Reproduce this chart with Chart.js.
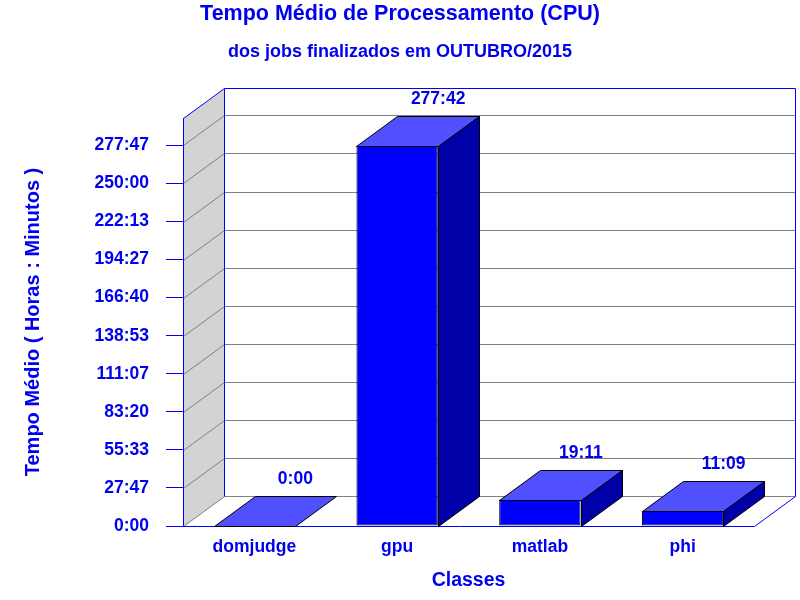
<!DOCTYPE html>
<html><head><meta charset="utf-8">
<script src="https://cdn.jsdelivr.net/npm/chart.js@4.4.0/dist/chart.umd.min.js"></script>
<style>html,body{margin:0;padding:0;background:#fff;overflow:hidden}#wrap{width:800px;height:600px}</style>
</head><body><div id="wrap"><canvas id="c" width="800" height="600"></canvas></div>
<script>
// ---- data ----
const categories = ['domjudge', 'gpu', 'matlab', 'phi'];
// average CPU time in seconds (277:42, 19:11, 11:09 in hours:minutes)
const valuesSeconds = [0, 999720, 69060, 40140];
const yTickValues = [0, 100000, 200000, 300000, 400000, 500000, 600000, 700000, 800000, 900000, 1000000];
const yAxisMax = 1072000;
const titleText = 'Tempo Médio de Processamento (CPU)';
const subtitleText = 'dos jobs finalizados em OUTUBRO/2015';
const yTitleText = 'Tempo Médio ( Horas : Minutos )';
const xTitleText = 'Classes';

// ---- style ----
const FONT = "'Liberation Sans', Arial, sans-serif";
const TXT = '#0000f0';
const BLUE = '#0000ff';
const DX = 41, DY = 30;

function fmt(sec) {
  const m = Math.round(sec / 60);
  const h = Math.floor(m / 60);
  const mm = m % 60;
  return h + ':' + String(mm).padStart(2, '0');
}

const threeD = {
  id: 'threeD',
  beforeDraw(chart) {
    const ctx = chart.ctx, a = chart.chartArea, ys = chart.scales.y;
    const L = Math.round(a.left) + 0.5, R = Math.round(a.right) + 0.5;
    const T = Math.round(a.top) + 0.5, B = Math.round(a.bottom) + 0.5;
    ctx.save();
    ctx.fillStyle = '#fff';
    ctx.fillRect(0, 0, chart.width, chart.height);
    // left wall
    ctx.fillStyle = '#d3d3d3';
    ctx.beginPath();
    ctx.moveTo(L, T); ctx.lineTo(L + DX, T - DY); ctx.lineTo(L + DX, B - DY); ctx.lineTo(L, B);
    ctx.closePath(); ctx.fill();
    // grid lines on left wall and back wall
    ctx.strokeStyle = '#808080'; ctx.lineWidth = 1;
    ys.ticks.forEach(t => {
      const y = Math.round(ys.getPixelForValue(t.value)) + 0.5;
      ctx.beginPath();
      ctx.moveTo(L, y); ctx.lineTo(L + DX, y - DY); ctx.lineTo(R + DX, y - DY);
      ctx.stroke();
    });
    // frame
    ctx.strokeStyle = BLUE;
    ctx.beginPath();
    ctx.moveTo(L, T); ctx.lineTo(L + DX, T - DY); ctx.lineTo(R + DX, T - DY);
    ctx.lineTo(R + DX, B - DY); ctx.lineTo(R, B); ctx.lineTo(L - 17, B);
    ctx.moveTo(L + DX, T - DY); ctx.lineTo(L + DX, B - DY);
    ctx.stroke();
    ctx.restore();
  },
  afterDatasetsDraw(chart) {
    const ctx = chart.ctx;
    const meta = chart.getDatasetMeta(0);
    const data = chart.data.datasets[0].data;
    ctx.save();
    ctx.lineWidth = 1; ctx.strokeStyle = '#000';
    meta.data.forEach((bar, i) => {
      const p = bar.getProps(['x', 'y', 'base', 'width'], true);
      const l = Math.round(p.x - p.width / 2) + 0.5, r = Math.round(p.x + p.width / 2) + 0.5;
      const t = Math.round(p.y) + 0.5, b = Math.round(p.base) + 0.5;
      // top face
      ctx.fillStyle = '#5050ff';
      ctx.beginPath();
      ctx.moveTo(l, t); ctx.lineTo(l + DX, t - DY); ctx.lineTo(r + DX, t - DY); ctx.lineTo(r, t);
      ctx.closePath(); ctx.fill(); ctx.stroke();
      // side face
      if (b - t > 0.5) {
        ctx.fillStyle = '#0000a8';
        ctx.beginPath();
        ctx.moveTo(r, t); ctx.lineTo(r + DX, t - DY); ctx.lineTo(r + DX, b - DY); ctx.lineTo(r, b);
        ctx.closePath(); ctx.fill(); ctx.stroke();
      }
      // value label
      ctx.fillStyle = TXT;
      ctx.font = 'bold 17.5px ' + FONT;
      ctx.textAlign = 'center'; ctx.textBaseline = 'middle';
      ctx.fillText(fmt(data[i]), p.x + DX, t - DY - 17.5);
    });
    ctx.restore();
  }
};

new Chart(document.getElementById('c'), {
  type: 'bar',
  data: {
    labels: categories,
    datasets: [{
      data: valuesSeconds,
      backgroundColor: BLUE,
      borderColor: '#000',
      borderWidth: 1,
      borderSkipped: false,
      barPercentage: 0.57,
      categoryPercentage: 1.0
    }]
  },
  options: {
    responsive: false,
    animation: false,
    devicePixelRatio: 1,
    layout: { padding: 0 },
    plugins: {
      legend: { display: false },
      tooltip: { enabled: false },
      title: {
        display: true, text: titleText, color: TXT,
        font: { family: FONT, size: 21.5, weight: 'bold', lineHeight: 1 },
        padding: { top: 3, bottom: 0 }
      },
      subtitle: {
        display: true, text: subtitleText, color: TXT,
        font: { family: FONT, size: 18, weight: 'bold', lineHeight: 1 },
        padding: { top: 19, bottom: 56.5 }
      }
    },
    scales: {
      x: {
        grid: { display: false, drawTicks: false },
        border: { display: false },
        ticks: { color: TXT, padding: 12, font: { family: FONT, size: 17.5, weight: 'bold', lineHeight: 1 } },
        title: {
          display: true, text: xTitleText, color: TXT,
          font: { family: FONT, size: 19.5, weight: 'bold', lineHeight: 1 },
          padding: { top: 0, bottom: 10 }
        },
        afterFit(s) { s.height = 74; }
      },
      y: {
        min: 0, max: yAxisMax,
        grid: { drawOnChartArea: false, drawTicks: true, tickLength: 17, color: BLUE },
        border: { display: true, color: BLUE },
        ticks: {
          color: TXT, padding: 17,
          font: { family: FONT, size: 17.5, weight: 'bold', lineHeight: 1 },
          callback: v => fmt(v)
        },
        afterBuildTicks(s) { s.ticks = yTickValues.map(v => ({ value: v })); },
        title: {
          display: true, text: yTitleText, color: TXT,
          font: { family: FONT, size: 20, weight: 'bold', lineHeight: 1 },
          padding: { top: 23, bottom: 0 }
        },
        afterFit(s) { s.width = 183; }
      },
      yRight: {
        position: 'right', display: true,
        grid: { display: false, drawTicks: false },
        border: { display: false },
        ticks: { display: false },
        afterFit(s) { s.width = 46; }
      }
    }
  },
  plugins: [threeD]
});
</script>
</body></html>
